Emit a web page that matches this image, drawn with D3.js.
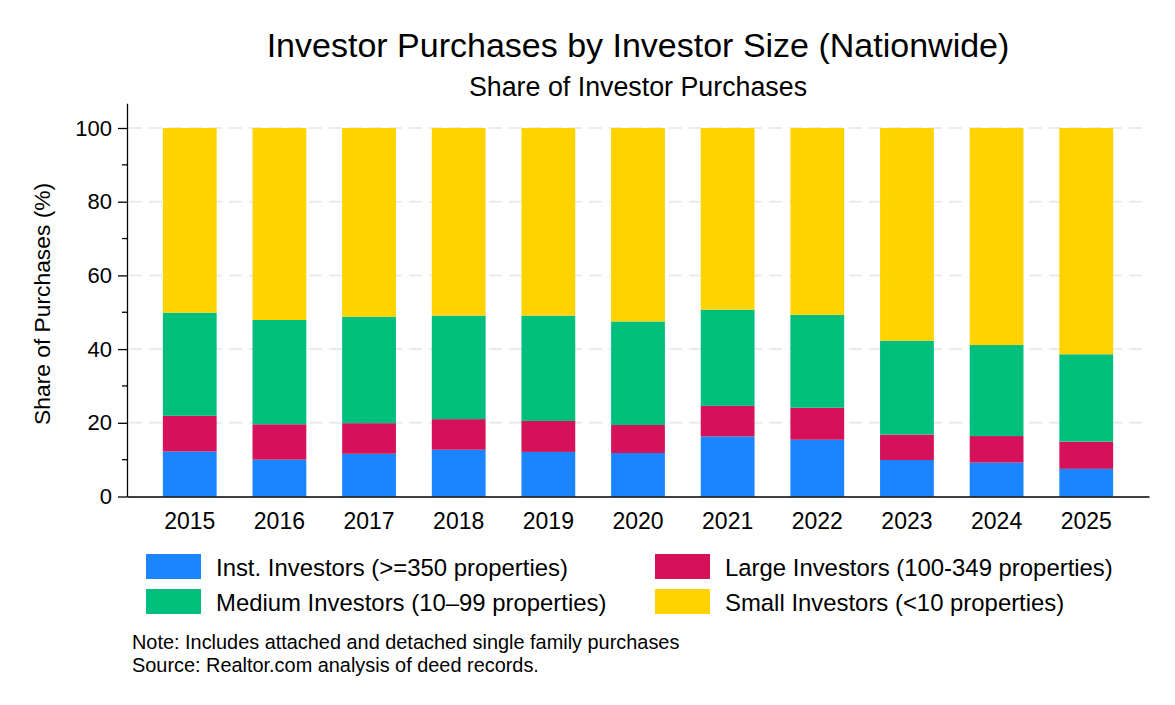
<!DOCTYPE html>
<html>
<head>
<meta charset="utf-8">
<script src="https://cdn.jsdelivr.net/npm/d3@7/dist/d3.min.js"></script>
<style>
  html, body { margin: 0; padding: 0; background: #fff; }
  svg { display: block; font-family: "Liberation Sans", Arial, sans-serif; }
</style>
</head>
<body>
<svg id="chart" width="1175" height="705"></svg>
<script>
// ---- Data ----
const years = ["2015","2016","2017","2018","2019","2020","2021","2022","2023","2024","2025"];
const instInvestors   = [12.2, 10.0, 11.6, 12.7, 12.1, 11.8, 16.3, 15.4, 9.9, 9.2, 7.5];
const largeInvestors  = [9.7, 9.6, 8.3, 8.3, 8.4, 7.6, 8.3, 8.7, 6.9, 7.2, 7.4];
const mediumInvestors = [28.0, 28.3, 28.9, 28.1, 28.6, 28.1, 26.1, 25.2, 25.5, 24.7, 23.7];
const smallInvestors  = [50.1, 52.1, 51.2, 50.9, 50.9, 52.5, 49.3, 50.7, 57.7, 58.9, 61.4];
const seriesKeys   = ["inst", "large", "medium", "small"];
const seriesLabels = ["Inst. Investors (>=350 properties)", "Large Investors (100-349 properties)",
                      "Medium Investors (10\u201399 properties)", "Small Investors (<10 properties)"];
const seriesColors = ["#1A85FF", "#D41159", "#00BF7D", "#FFD300"];
const yTicks = [0, 20, 40, 60, 80, 100];
const yMinorTicks = [10, 30, 50, 70, 90];
const titleText = "Investor Purchases by Investor Size (Nationwide)";
const subtitleText = "Share of Investor Purchases";
const yLabelText = "Share of Purchases (%)";
const noteLines = ["Note: Includes attached and detached single family purchases",
                   "Source: Realtor.com analysis of deed records."];

const table = years.map((y, i) => ({
  year: y, inst: instInvestors[i], large: largeInvestors[i],
  medium: mediumInvestors[i], small: smallInvestors[i]
}));

// ---- Layout ----
const svg = d3.select("#chart");
const left = 127, right = 1149, y0px = 496.5, y100px = 128, topPx = 103.3;
const pxPerUnit = (y0px - y100px) / 100;
const yMax = (y0px - topPx) / pxPerUnit;

const x = d3.scaleBand().domain(years).range([left, right]).paddingInner(0.4).paddingOuter(0.4);
const y = d3.scaleLinear().domain([0, yMax]).range([y0px, topPx]);
const color = d3.scaleOrdinal().domain(seriesKeys).range(seriesColors);

// gridlines
svg.append("g").selectAll("line").data(yTicks.filter(d => d > 0)).join("line")
  .attr("x1", left + 2).attr("x2", right).attr("y1", d => y(d)).attr("y2", d => y(d))
  .attr("stroke", "#ebebeb").attr("stroke-width", 2).attr("stroke-dasharray", "13,7");

// stacked bars
const stacked = d3.stack().keys(seriesKeys)(table);
svg.append("g").selectAll("g").data(stacked).join("g")
  .attr("fill", d => color(d.key))
  .selectAll("rect").data(d => d).join("rect")
  .attr("x", d => x(d.data.year))
  .attr("width", x.bandwidth())
  .attr("y", d => y(Math.min(d[1], 100)))
  .attr("height", d => y(d[0]) - y(Math.min(d[1], 100)));

// y axis
const yAxis = svg.append("g").attr("transform", `translate(${left},0)`)
  .call(d3.axisLeft(y).tickValues(yTicks).tickSize(9).tickPadding(6).tickSizeOuter(0));
yAxis.select(".domain").attr("stroke", "#000").attr("stroke-width", 1.3);
yAxis.selectAll(".tick line").attr("stroke", "#000").attr("stroke-width", 1.3);
yAxis.selectAll(".tick text").attr("font-size", 22).attr("fill", "#000")
  .attr("font-family", "Liberation Sans, Arial, sans-serif");
svg.append("g").selectAll("line").data(yMinorTicks).join("line")
  .attr("x1", left - 5).attr("x2", left).attr("y1", d => y(d)).attr("y2", d => y(d))
  .attr("stroke", "#000").attr("stroke-width", 1.3);

// x axis
const xAxis = svg.append("g").attr("transform", `translate(0,${y0px})`)
  .call(d3.axisBottom(x).tickSize(0).tickPadding(9).tickSizeOuter(0));
xAxis.select(".domain").attr("stroke", "#000").attr("stroke-width", 1.5);
xAxis.selectAll(".tick text").attr("font-size", 23).attr("fill", "#000")
  .attr("font-family", "Liberation Sans, Arial, sans-serif").attr("dy", null).attr("y", 32);

// titles
svg.append("text").attr("x", (left + right) / 2).attr("y", 57).attr("text-anchor", "middle")
  .attr("font-size", 34).attr("fill", "#000").text(titleText);
svg.append("text").attr("x", (left + right) / 2).attr("y", 95.5).attr("text-anchor", "middle")
  .attr("font-size", 26.8).attr("fill", "#000").text(subtitleText);

// y label
svg.append("text").attr("transform", `translate(50,${(y0px + topPx) / 2 + 4}) rotate(-90)`)
  .attr("text-anchor", "middle").attr("font-size", 22.8).attr("fill", "#000").text(yLabelText);

// legend
const legendPos = [[146, 554], [655, 554], [146, 589], [655, 589]];
const lg = svg.append("g").selectAll("g").data(seriesKeys).join("g")
  .attr("transform", (d, i) => `translate(${legendPos[i][0]},${legendPos[i][1]})`);
lg.append("rect").attr("width", 55).attr("height", 25).attr("fill", d => color(d));
lg.append("text").attr("x", 70).attr("y", 22).attr("font-size", 23.9).attr("fill", "#000")
  .text((d, i) => seriesLabels[i]);

// notes
svg.append("g").selectAll("text").data(noteLines).join("text")
  .attr("x", 132).attr("y", (d, i) => 649 + i * 23)
  .attr("font-size", 19.9).attr("fill", "#000").text(d => d);
</script>
</body>
</html>
